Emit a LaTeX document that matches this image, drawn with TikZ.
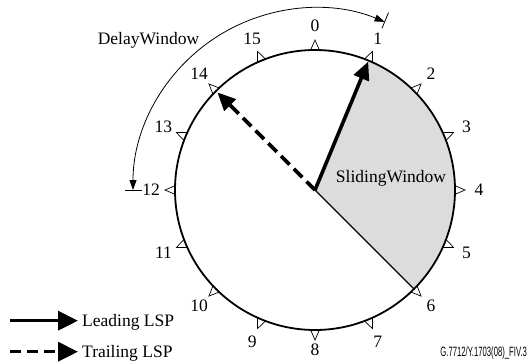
\documentclass[tikz,border=0pt]{standalone}
\usepackage{fontspec}
\setmainfont{Liberation Serif}
\newfontfamily\labsans{Liberation Sans}
\usetikzlibrary{arrows.meta,calc}
\definecolor{sectorgray}{RGB}{220,220,220}
\begin{document}
\begin{tikzpicture}[x=1pt,y=1pt,
  lbl/.style={font=\fontsize{17.5}{20}\selectfont, inner sep=0pt},
  tickmark/.style={line width=0.7pt},
  ring/.style={line width=1.8pt},
  leadarrow/.style={line width=3.6pt, -{Triangle[length=18pt,width=16pt]}},
  trailarrow/.style={line width=3.6pt, dash pattern=on 12pt off 6pt, -{Triangle[length=18pt,width=16pt]}},
  delayarc/.style={line width=0.8pt, {Triangle[length=10pt,width=7pt]}-{Triangle[length=10pt,width=7pt]}},
  endtick/.style={line width=0.8pt}
]
\useasboundingbox (0,0) rectangle (530,362);
\coordinate (c) at (315,172);
\coordinate (p1) at ($(c)+(67.5:140)$);
\coordinate (p6) at ($(c)+(-45:140)$);
\coordinate (tip1) at ($(c)+(67.5:139)$);
\coordinate (tip14) at ($(c)+(135:138)$);
% sliding window sector
\fill[sectorgray] (c) -- (p1) arc[start angle=67.5, end angle=-45, radius=140] -- cycle;
\draw[ring] (c) circle[radius=140];
\draw[line width=1.4pt] (c) -- (p6);
% ticks and labels
\foreach \k in {0,...,15}{
  \pgfmathsetmacro\a{90-22.5*\k}
  \pgfmathsetmacro\rr{\k==8 ? 160 : 164}
  \draw[tickmark] ($(c)+(\a+1.8:140)$) -- ($(c)+(\a:150)$) -- ($(c)+(\a-1.8:140)$);
  \node[lbl] (n\k) at ($(c)+(\a:\rr)$) {\k};
}
% arrows
\draw[leadarrow] (c) -- (tip1);
\draw[trailarrow] (c) -- (tip14);
% delay window
\coordinate (d0) at ($(c)+(180:182)$);
\draw[delayarc] (d0) arc[start angle=180, end angle=67.5, radius=182];
\draw[endtick] ($(c)+(180:173)$) -- ($(c)+(180:190)$);
\draw[endtick] ($(c)+(67.5:175)$) -- ($(c)+(67.5:192)$);
\node[lbl] (dw) at (148.5,322) {DelayWindow};
\node[lbl, anchor=base] (sw) at (391,179.3) {SlidingWindow};
% legend
\coordinate (la1) at (10,41.3);
\coordinate (la2) at (78,41.3);
\coordinate (lb1) at (10,10.3);
\coordinate (lb2) at (78,10.3);
\draw[line width=3.4pt, -{Triangle[length=20pt,width=19pt]}] (la1) -- (la2);
\draw[line width=3.4pt, dash pattern=on 11pt off 6pt, -{Triangle[length=20pt,width=19pt]}] (lb1) -- (lb2);
\node[lbl, anchor=base west] (lead) at (82,36) {Leading LSP};
\node[lbl, anchor=base west] (trail) at (82,4.7) {Trailing LSP};
\node[anchor=base east, inner sep=0pt, xscale=0.57, font=\labsans\fontsize{13.5}{15}\selectfont] (code) at (527,6) {G.7712/Y.1703(08)\_FIV.3};
\end{tikzpicture}
\end{document}
